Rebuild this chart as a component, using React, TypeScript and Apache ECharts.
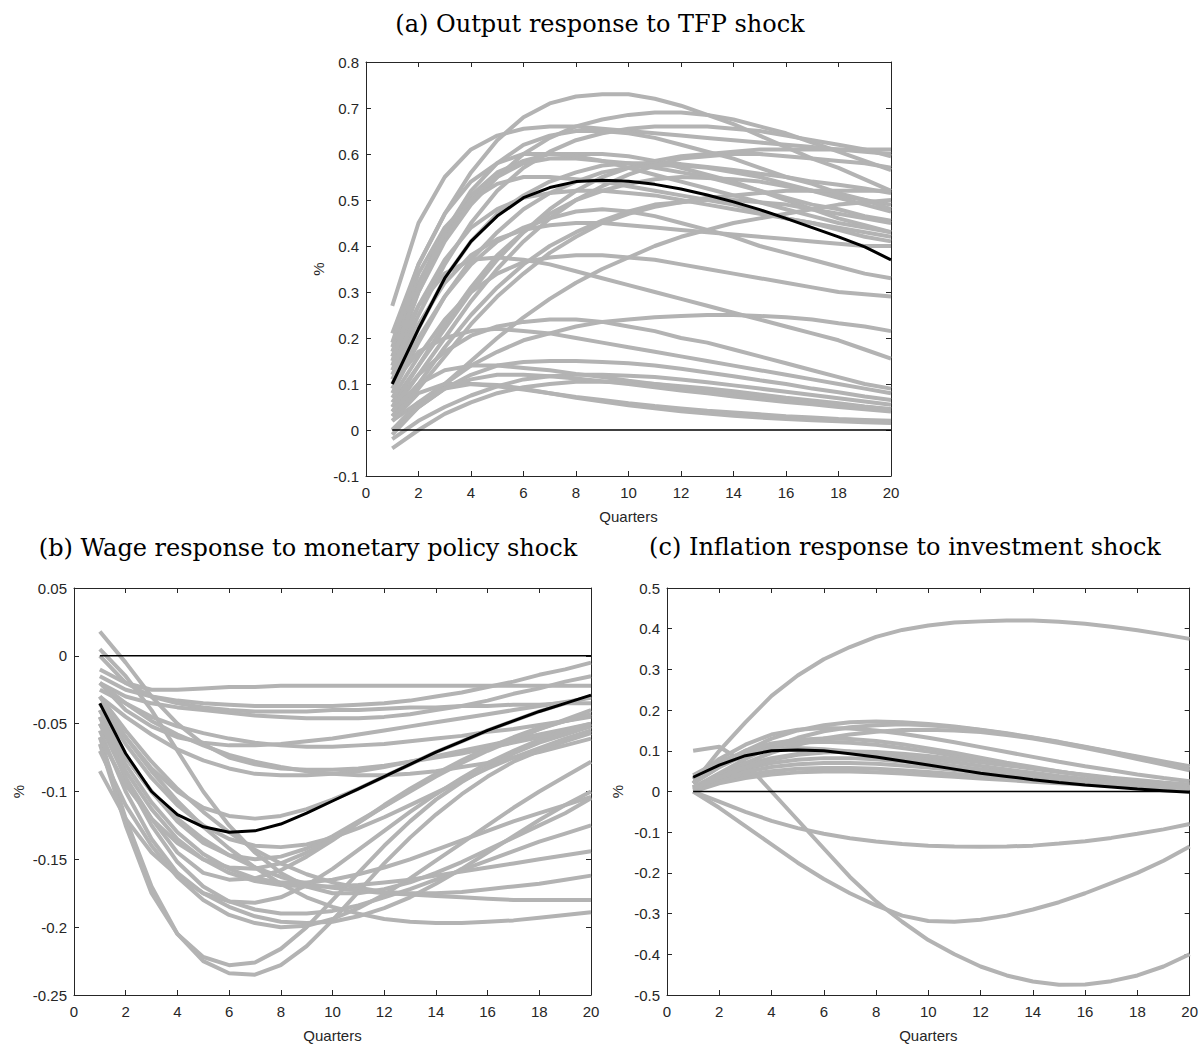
import React, { useEffect, useRef } from "react";
import * as echarts from "echarts";

const QUARTERS = [1, 2, 3, 4, 5, 6, 7, 8, 9, 10, 11, 12, 13, 14, 15, 16, 17, 18, 19, 20];

const TITLES = [
  "(a) Output response to TFP shock",
  "(b) Wage response to monetary policy shock",
  "(c) Inflation response to investment shock",
];

// Panel (a): output response to TFP shock
const TFP_MEDIAN = [0.1, 0.22, 0.33, 0.41, 0.465, 0.505, 0.527, 0.54, 0.543, 0.541, 0.534, 0.524, 0.511, 0.496, 0.479, 0.46, 0.44, 0.42, 0.398, 0.37];
const TFP_DRAWS = [
  [0.27, 0.45, 0.55, 0.61, 0.64, 0.655, 0.66, 0.66, 0.655, 0.65, 0.645, 0.64, 0.635, 0.63, 0.625, 0.62, 0.615, 0.61, 0.605, 0.6],
  [0.21, 0.36, 0.47, 0.56, 0.63, 0.68, 0.71, 0.725, 0.73, 0.73, 0.72, 0.705, 0.685, 0.665, 0.64, 0.615, 0.59, 0.57, 0.545, 0.52],
  [0.16, 0.3, 0.41, 0.49, 0.55, 0.6, 0.635, 0.66, 0.675, 0.685, 0.69, 0.69, 0.685, 0.675, 0.66, 0.645, 0.625, 0.605, 0.585, 0.565],
  [0.12, 0.25, 0.36, 0.45, 0.52, 0.57, 0.605, 0.63, 0.645, 0.655, 0.66, 0.66, 0.66, 0.655, 0.65, 0.64, 0.63, 0.62, 0.61, 0.595],
  [0.06, 0.14, 0.22, 0.3, 0.37, 0.43, 0.48, 0.52, 0.55, 0.57, 0.585, 0.595, 0.6, 0.605, 0.61, 0.61, 0.61, 0.61, 0.61, 0.61],
  [0.17, 0.32, 0.43, 0.51, 0.56, 0.585, 0.6, 0.6, 0.6, 0.595, 0.585, 0.57, 0.555, 0.54, 0.52, 0.5, 0.48, 0.46, 0.445, 0.43],
  [0.14, 0.3, 0.42, 0.5, 0.55, 0.58, 0.59, 0.59, 0.585, 0.58, 0.57, 0.56, 0.55, 0.535, 0.52, 0.505, 0.49, 0.48, 0.465, 0.455],
  [0.1, 0.22, 0.33, 0.41, 0.47, 0.51, 0.54, 0.56, 0.575, 0.58, 0.58, 0.578, 0.572, 0.565, 0.557, 0.55, 0.54, 0.533, 0.525, 0.515],
  [0.18, 0.34, 0.44, 0.5, 0.535, 0.55, 0.55, 0.545, 0.54, 0.53, 0.52, 0.51, 0.5, 0.49, 0.475, 0.46, 0.45, 0.435, 0.42, 0.41],
  [0.13, 0.27, 0.37, 0.44, 0.48, 0.505, 0.515, 0.52, 0.52, 0.515, 0.51, 0.5, 0.49, 0.48, 0.47, 0.46, 0.45, 0.44, 0.43, 0.42],
  [0.04, 0.12, 0.2, 0.28, 0.35, 0.41, 0.46, 0.5, 0.53, 0.555, 0.575, 0.59, 0.595, 0.6, 0.6, 0.595, 0.59, 0.585, 0.58, 0.57],
  [0.08, 0.19, 0.29, 0.37, 0.43, 0.48, 0.515, 0.54, 0.56, 0.57, 0.575, 0.575, 0.57, 0.56, 0.55, 0.535, 0.52, 0.505, 0.49, 0.475],
  [0.05, 0.14, 0.23, 0.31, 0.38, 0.43, 0.47, 0.5, 0.52, 0.535, 0.545, 0.55, 0.548, 0.545, 0.54, 0.53, 0.52, 0.51, 0.5, 0.49],
  [0.03, 0.1, 0.18, 0.25, 0.31, 0.36, 0.4, 0.43, 0.455, 0.475, 0.49, 0.495, 0.5, 0.5, 0.495, 0.49, 0.48, 0.47, 0.46, 0.45],
  [0.0, 0.05, 0.1, 0.15, 0.2, 0.245, 0.285, 0.32, 0.35, 0.375, 0.4, 0.42, 0.435, 0.45, 0.46, 0.47, 0.48, 0.49, 0.495, 0.5],
  [0.09, 0.2, 0.29, 0.36, 0.41, 0.44, 0.46, 0.475, 0.48, 0.475, 0.465, 0.45, 0.435, 0.42, 0.4, 0.385, 0.37, 0.355, 0.34, 0.33],
  [0.07, 0.16, 0.24, 0.3, 0.34, 0.365, 0.375, 0.38, 0.38, 0.375, 0.37, 0.36, 0.35, 0.34, 0.33, 0.32, 0.31, 0.3, 0.295, 0.29],
  [0.16, 0.27, 0.34, 0.37, 0.375, 0.37, 0.36, 0.345, 0.33, 0.315, 0.3, 0.285, 0.27, 0.255, 0.24, 0.225, 0.21, 0.195, 0.175, 0.155],
  [0.02, 0.06, 0.1, 0.14, 0.17, 0.195, 0.21, 0.225, 0.235, 0.24, 0.245, 0.248, 0.25, 0.25, 0.248, 0.245, 0.24, 0.232, 0.225, 0.215],
  [0.05, 0.12, 0.17, 0.205, 0.225, 0.235, 0.24, 0.24, 0.235, 0.225, 0.215, 0.2, 0.19, 0.175, 0.16, 0.145, 0.13, 0.115, 0.1, 0.09],
  [0.1, 0.17, 0.2, 0.215, 0.22, 0.215, 0.21, 0.2, 0.19, 0.18, 0.17, 0.16, 0.15, 0.14, 0.13, 0.12, 0.11, 0.1, 0.09, 0.08],
  [0.0, 0.05, 0.09, 0.12, 0.14, 0.148, 0.15, 0.15, 0.148, 0.145, 0.14, 0.133, 0.125, 0.117, 0.108, 0.1, 0.09, 0.082, 0.073, 0.065],
  [-0.02, 0.02, 0.05, 0.075, 0.095, 0.11, 0.117, 0.12, 0.12, 0.118, 0.115, 0.11, 0.104, 0.097, 0.09, 0.083, 0.076, 0.069, 0.062, 0.055],
  [-0.04, 0.0, 0.035, 0.06, 0.08, 0.093, 0.1, 0.105, 0.105, 0.103, 0.1, 0.095, 0.09, 0.084, 0.077, 0.07, 0.064, 0.058, 0.051, 0.045],
  [0.02, 0.08, 0.1, 0.1, 0.095, 0.088, 0.08, 0.072, 0.065, 0.058, 0.052, 0.047, 0.042, 0.038, 0.034, 0.03, 0.027, 0.024, 0.022, 0.02],
  [0.0, 0.06, 0.09, 0.1, 0.098, 0.09, 0.08, 0.07, 0.062, 0.054, 0.047, 0.041, 0.036, 0.031, 0.027, 0.024, 0.021, 0.019, 0.017, 0.015],
  [0.11, 0.23, 0.32, 0.38, 0.415, 0.435, 0.445, 0.45, 0.45, 0.445, 0.44, 0.435, 0.43, 0.425, 0.42, 0.415, 0.41, 0.405, 0.4, 0.4],
  [0.03, 0.09, 0.16, 0.23, 0.29, 0.34, 0.385, 0.42, 0.45, 0.47, 0.485, 0.495, 0.505, 0.51, 0.515, 0.52, 0.52, 0.52, 0.52, 0.52],
  [0.15, 0.31, 0.43, 0.52, 0.58, 0.62, 0.64, 0.65, 0.65, 0.645, 0.635, 0.62, 0.605, 0.59, 0.57, 0.55, 0.535, 0.515, 0.5, 0.48],
  [0.19, 0.36, 0.47, 0.54, 0.58, 0.6, 0.6, 0.595, 0.585, 0.57, 0.555, 0.54, 0.525, 0.51, 0.495, 0.48, 0.465, 0.45, 0.44, 0.43],
  [0.04, 0.1, 0.13, 0.14, 0.14, 0.135, 0.13, 0.122, 0.115, 0.107, 0.1, 0.093, 0.086, 0.079, 0.073, 0.067, 0.061, 0.055, 0.05, 0.045],
  [-0.01, 0.05, 0.09, 0.11, 0.12, 0.12, 0.117, 0.112, 0.106, 0.1, 0.093, 0.086, 0.08, 0.073, 0.067, 0.061, 0.056, 0.05, 0.045, 0.04],
];

// Panel (b): wage response to monetary policy shock
const WAGE_MEDIAN = [-0.035, -0.072, -0.1, -0.117, -0.126, -0.13, -0.129, -0.124, -0.116, -0.107, -0.098, -0.089, -0.08, -0.071, -0.063, -0.055, -0.048, -0.041, -0.035, -0.029];
const WAGE_DRAWS = [
  [0.018, -0.005, -0.03, -0.05, -0.065, -0.075, -0.08, -0.083, -0.084, -0.084, -0.083, -0.081, -0.078, -0.075, -0.072, -0.068, -0.064, -0.06, -0.056, -0.052],
  [0.005, -0.015, -0.04, -0.07, -0.1, -0.125, -0.145, -0.16, -0.17, -0.175, -0.175, -0.172, -0.167, -0.16, -0.152, -0.143, -0.134, -0.125, -0.116, -0.105],
  [-0.01, -0.02, -0.025, -0.025, -0.024, -0.023, -0.023, -0.022, -0.022, -0.022, -0.022, -0.022, -0.022, -0.022, -0.022, -0.022, -0.022, -0.022, -0.022, -0.022],
  [-0.015, -0.025, -0.03, -0.033, -0.035, -0.036, -0.037, -0.037, -0.037, -0.037, -0.036, -0.035, -0.033, -0.03, -0.027, -0.023, -0.019, -0.014, -0.01, -0.005],
  [-0.02, -0.03, -0.035, -0.038, -0.04, -0.042, -0.044, -0.045, -0.046, -0.046, -0.046, -0.045, -0.043, -0.04, -0.037, -0.033, -0.028, -0.024, -0.019, -0.015],
  [-0.025, -0.035, -0.045, -0.052, -0.057, -0.061, -0.064, -0.066, -0.067, -0.067, -0.066, -0.065, -0.063, -0.061, -0.059, -0.056, -0.054, -0.051, -0.048, -0.045],
  [-0.03, -0.045, -0.058, -0.069, -0.077, -0.083, -0.087, -0.088, -0.088, -0.087, -0.085, -0.082, -0.078, -0.074, -0.07, -0.066, -0.062, -0.058, -0.054, -0.05],
  [-0.02, -0.04, -0.052, -0.06, -0.064, -0.066, -0.066, -0.065, -0.063, -0.061, -0.058, -0.055, -0.052, -0.049, -0.046, -0.043, -0.04, -0.037, -0.034, -0.031],
  [-0.04, -0.075, -0.1, -0.122, -0.138, -0.147, -0.15, -0.148, -0.142, -0.133, -0.122, -0.111, -0.1, -0.089, -0.079, -0.07, -0.062, -0.054, -0.047, -0.04],
  [-0.05, -0.09, -0.12, -0.145, -0.16, -0.165, -0.164, -0.158, -0.148, -0.136, -0.123, -0.11, -0.098, -0.087, -0.077, -0.068, -0.06, -0.053, -0.048, -0.044],
  [-0.055, -0.1, -0.135, -0.16, -0.175, -0.181, -0.182, -0.178, -0.169, -0.157, -0.143, -0.129, -0.115, -0.102, -0.09, -0.079, -0.07, -0.062, -0.055, -0.05],
  [-0.06, -0.12, -0.17, -0.205, -0.222, -0.228, -0.226, -0.216, -0.2, -0.18, -0.16, -0.14, -0.122, -0.106, -0.093, -0.082, -0.072, -0.064, -0.058, -0.052],
  [-0.065, -0.125, -0.175, -0.205, -0.225, -0.234, -0.235, -0.228, -0.214, -0.195, -0.174, -0.153, -0.134, -0.117, -0.102, -0.089, -0.078, -0.07, -0.063, -0.057],
  [-0.07, -0.11, -0.14, -0.163, -0.18, -0.191, -0.197, -0.2, -0.199, -0.194, -0.186, -0.176, -0.164, -0.151, -0.138, -0.125, -0.112, -0.1, -0.089, -0.078],
  [-0.045, -0.09, -0.125, -0.152, -0.17, -0.181, -0.187, -0.19, -0.19, -0.188, -0.184, -0.178, -0.172, -0.165, -0.158, -0.151, -0.144, -0.137, -0.131, -0.125],
  [-0.04, -0.075, -0.1, -0.12, -0.135, -0.147, -0.156, -0.163, -0.168, -0.171, -0.173, -0.175, -0.176, -0.177, -0.178, -0.179, -0.18, -0.18, -0.18, -0.18],
  [-0.035, -0.06, -0.085, -0.107, -0.126, -0.142, -0.156, -0.168, -0.178, -0.185, -0.19, -0.194, -0.196, -0.197, -0.197, -0.196, -0.195, -0.193, -0.191, -0.189],
  [-0.03, -0.055, -0.078, -0.098, -0.115, -0.13, -0.143, -0.153, -0.161, -0.167, -0.171, -0.174, -0.175, -0.175, -0.174, -0.172, -0.17, -0.168, -0.165, -0.162],
  [-0.05, -0.085, -0.113, -0.135, -0.15, -0.16, -0.166, -0.169, -0.17, -0.17, -0.169, -0.167, -0.165, -0.162, -0.159, -0.156, -0.153, -0.15, -0.147, -0.144],
  [-0.045, -0.08, -0.108, -0.13, -0.146, -0.157, -0.164, -0.167, -0.167, -0.165, -0.161, -0.156, -0.15, -0.143, -0.136, -0.129, -0.122, -0.116, -0.11, -0.104],
  [-0.085, -0.12, -0.145, -0.162, -0.175, -0.185, -0.192, -0.196, -0.197, -0.196, -0.192, -0.186, -0.178, -0.168, -0.157, -0.145, -0.133, -0.121, -0.11, -0.1],
  [-0.03, -0.06, -0.083, -0.1, -0.112, -0.118, -0.12, -0.118, -0.113, -0.106, -0.098, -0.089, -0.08, -0.071, -0.063, -0.055, -0.048, -0.041, -0.035, -0.03],
  [-0.035, -0.065, -0.09, -0.11, -0.125, -0.135, -0.14, -0.141, -0.139, -0.134, -0.127, -0.119, -0.11, -0.101, -0.092, -0.083, -0.075, -0.068, -0.061, -0.055],
  [-0.02, -0.035, -0.048, -0.058, -0.066, -0.073, -0.078, -0.082, -0.085, -0.087, -0.088, -0.088, -0.087, -0.085, -0.082, -0.079, -0.075, -0.071, -0.066, -0.061],
  [-0.06, -0.095, -0.12, -0.138, -0.15, -0.156, -0.157, -0.153, -0.145, -0.135, -0.123, -0.111, -0.099, -0.088, -0.078, -0.069, -0.061, -0.054, -0.048, -0.043],
  [0.0, -0.02, -0.03, -0.035, -0.038, -0.04, -0.041, -0.041, -0.041, -0.04, -0.04, -0.039, -0.038, -0.038, -0.037, -0.037, -0.036, -0.036, -0.035, -0.035],
];

// Panel (c): inflation response to investment shock
const INFL_MEDIAN = [0.035, 0.065, 0.088, 0.1, 0.102, 0.1, 0.093, 0.085, 0.075, 0.065, 0.055, 0.045, 0.037, 0.029, 0.022, 0.016, 0.011, 0.006, 0.002, -0.002];
const INFL_DRAWS = [
  [0.02, 0.1, 0.17, 0.235, 0.285, 0.325, 0.355, 0.38, 0.397, 0.408, 0.415, 0.418, 0.42, 0.42, 0.417, 0.412, 0.405, 0.396, 0.386, 0.375],
  [0.1, 0.11, 0.07, 0.0, -0.07, -0.14, -0.21, -0.27, -0.32, -0.365, -0.4, -0.43, -0.452, -0.467, -0.475, -0.474, -0.466, -0.452, -0.43, -0.4],
  [0.0, -0.04, -0.085, -0.13, -0.175, -0.215, -0.25, -0.28, -0.305, -0.318, -0.32, -0.315, -0.305, -0.29, -0.272, -0.25, -0.225, -0.2, -0.17, -0.135],
  [0.0, -0.025, -0.05, -0.072, -0.09, -0.104, -0.115, -0.123, -0.129, -0.133, -0.135, -0.136, -0.135, -0.133, -0.128, -0.122, -0.114, -0.104, -0.093, -0.08],
  [0.02, 0.06, 0.1, 0.13, 0.15, 0.163, 0.17, 0.172, 0.17, 0.166, 0.16, 0.152, 0.143, 0.133, 0.122, 0.11, 0.098, 0.086, 0.074, 0.062],
  [0.01, 0.045, 0.08, 0.11, 0.132, 0.148, 0.158, 0.163, 0.165, 0.163, 0.158, 0.151, 0.142, 0.132, 0.121, 0.109, 0.097, 0.084, 0.071, 0.058],
  [0.01, 0.04, 0.07, 0.095, 0.115, 0.13, 0.14, 0.147, 0.151, 0.152, 0.15, 0.146, 0.139, 0.13, 0.119, 0.107, 0.094, 0.08, 0.066, 0.052],
  [0.03, 0.08, 0.115, 0.14, 0.152, 0.156, 0.155, 0.15, 0.142, 0.132, 0.121, 0.109, 0.097, 0.085, 0.073, 0.062, 0.052, 0.042, 0.033, 0.025],
  [0.02, 0.06, 0.09, 0.11, 0.12, 0.122, 0.12, 0.115, 0.107, 0.098, 0.088, 0.078, 0.068, 0.058, 0.049, 0.04, 0.032, 0.025, 0.018, 0.012],
  [0.01, 0.04, 0.065, 0.082, 0.092, 0.097, 0.097, 0.094, 0.088, 0.08, 0.072, 0.063, 0.054, 0.046, 0.038, 0.031, 0.025, 0.019, 0.014, 0.01],
  [0.01, 0.035, 0.055, 0.07, 0.078, 0.082, 0.082, 0.079, 0.074, 0.068, 0.061, 0.054, 0.047, 0.04, 0.034, 0.028, 0.023, 0.018, 0.014, 0.01],
  [0.005, 0.03, 0.048, 0.06, 0.067, 0.07, 0.07, 0.068, 0.064, 0.059, 0.053, 0.047, 0.041, 0.035, 0.03, 0.025, 0.02, 0.016, 0.012, 0.009],
  [0.005, 0.025, 0.04, 0.05, 0.056, 0.058, 0.058, 0.056, 0.052, 0.048, 0.043, 0.038, 0.033, 0.028, 0.024, 0.02, 0.016, 0.013, 0.01, 0.008],
  [0.0, 0.02, 0.033, 0.042, 0.047, 0.049, 0.049, 0.047, 0.044, 0.04, 0.036, 0.032, 0.028, 0.024, 0.02, 0.017, 0.014, 0.011, 0.009, 0.007],
  [0.03, 0.07, 0.1, 0.118, 0.127, 0.13, 0.129, 0.124, 0.116, 0.106, 0.095, 0.083, 0.071, 0.06, 0.049, 0.039, 0.03, 0.022, 0.015, 0.009],
  [0.04, 0.075, 0.095, 0.105, 0.107, 0.104, 0.098, 0.09, 0.081, 0.072, 0.063, 0.054, 0.046, 0.039, 0.032, 0.026, 0.021, 0.016, 0.012, 0.009],
  [0.005, 0.035, 0.06, 0.078, 0.09, 0.096, 0.098, 0.097, 0.093, 0.087, 0.08, 0.072, 0.064, 0.056, 0.048, 0.041, 0.034, 0.028, 0.022, 0.017],
];

const Y_RANGES = [
  { min: -0.1, max: 0.8, interval: 0.1 },
  { min: -0.25, max: 0.05, interval: 0.05 },
  { min: -0.5, max: 0.5, interval: 0.1 },
];

const GRIDS = [
  { left: 366, top: 62, width: 525, height: 414 },
  { left: 74, top: 588, width: 517, height: 407 },
  { left: 667, top: 588, width: 524, height: 407 },
];

const Y_NAME_GAPS = [40, 48, 42];
const TITLE_POS = [
  [600, 24],
  [308, 548],
  [905, 547],
];

const AXIS_COLOR = "#262626";
const GRAY = "#b3b3b3";
const SANS = "Liberation Sans, Arial, sans-serif";

function pairs(vals: number[]) {
  return vals.map((v, i) => [QUARTERS[i], v]);
}

function fmt(v: number) {
  const r = Math.round(v * 1000) / 1000;
  return String(r === 0 ? 0 : r);
}

function buildOption() {
  const draws = [TFP_DRAWS, WAGE_DRAWS, INFL_DRAWS];
  const medians = [TFP_MEDIAN, WAGE_MEDIAN, INFL_MEDIAN];
  const xAxis: any[] = [];
  const yAxis: any[] = [];
  const series: any[] = [];
  const axisLine = { show: true, onZero: false, lineStyle: { color: AXIS_COLOR, width: 1 } };
  const axisTick = { show: true, inside: true, length: 5, lineStyle: { color: AXIS_COLOR, width: 1 } };
  for (let p = 0; p < 3; p++) {
    xAxis.push({
      type: "value",
      gridIndex: p,
      position: "bottom",
      min: 0,
      max: 20,
      interval: 2,
      axisLine,
      axisTick,
      splitLine: { show: false },
      axisLabel: { color: AXIS_COLOR, fontFamily: SANS, fontSize: 15, margin: 9 },
      name: "Quarters",
      nameLocation: "middle",
      nameGap: 33,
      nameTextStyle: { color: AXIS_COLOR, fontFamily: SANS, fontSize: 15 },
    });
    xAxis.push({
      type: "value",
      gridIndex: p,
      position: "top",
      min: 0,
      max: 20,
      interval: 2,
      axisLine,
      axisTick,
      splitLine: { show: false },
      axisLabel: { show: false },
    });
    const yr = Y_RANGES[p];
    yAxis.push({
      type: "value",
      gridIndex: p,
      position: "left",
      min: yr.min,
      max: yr.max,
      interval: yr.interval,
      axisLine,
      axisTick,
      splitLine: { show: false },
      axisLabel: { color: AXIS_COLOR, fontFamily: SANS, fontSize: 15, margin: 7, formatter: fmt },
      name: "%",
      nameLocation: "middle",
      nameGap: Y_NAME_GAPS[p],
      nameRotate: 90,
      nameTextStyle: { color: AXIS_COLOR, fontFamily: SANS, fontSize: 15 },
    });
    yAxis.push({
      type: "value",
      gridIndex: p,
      position: "right",
      min: yr.min,
      max: yr.max,
      interval: yr.interval,
      axisLine,
      axisTick,
      splitLine: { show: false },
      axisLabel: { show: false },
    });
    draws[p].forEach((d, k) => {
      series.push({
        type: "line",
        name: `draw-${p}-${k}`,
        xAxisIndex: 2 * p,
        yAxisIndex: 2 * p,
        data: pairs(d),
        symbol: "none",
        silent: true,
        lineStyle: { color: GRAY, width: 4 },
        z: 2,
      });
    });
    series.push({
      type: "line",
      name: `zero-${p}`,
      xAxisIndex: 2 * p,
      yAxisIndex: 2 * p,
      data: [
        [QUARTERS[0], 0],
        [QUARTERS[QUARTERS.length - 1], 0],
      ],
      symbol: "none",
      silent: true,
      lineStyle: { color: "#000", width: 1.5 },
      z: 3,
    });
    series.push({
      type: "line",
      name: `median-${p}`,
      xAxisIndex: 2 * p,
      yAxisIndex: 2 * p,
      data: pairs(medians[p]),
      symbol: "none",
      silent: true,
      lineStyle: { color: "#000", width: 3 },
      z: 4,
    });
  }
  const graphic = TITLES.map((t, i) => ({
    type: "text",
    x: TITLE_POS[i][0],
    y: TITLE_POS[i][1],
    style: {
      text: t,
      font: '24px "DejaVu Serif", "Liberation Serif", serif',
      fill: "#000",
      textAlign: "center",
      textVerticalAlign: "middle",
      align: "center",
      verticalAlign: "middle",
    },
  }));
  return {
    animation: false,
    backgroundColor: "#ffffff",
    grid: GRIDS.map((g) => ({ ...g, containLabel: false })),
    xAxis,
    yAxis,
    series,
    graphic,
  };
}

export default function App() {
  const ref = useRef<HTMLDivElement>(null);
  useEffect(() => {
    document.body.style.margin = "0";
    if (!ref.current) return;
    const chart = echarts.init(ref.current, undefined, { renderer: "svg" });
    chart.setOption(buildOption() as any);
    return () => chart.dispose();
  }, []);
  return (
    <div
      ref={ref}
      style={{ width: 1201, height: 1046, position: "absolute", left: 0, top: 0, background: "#fff" }}
    />
  );
}
